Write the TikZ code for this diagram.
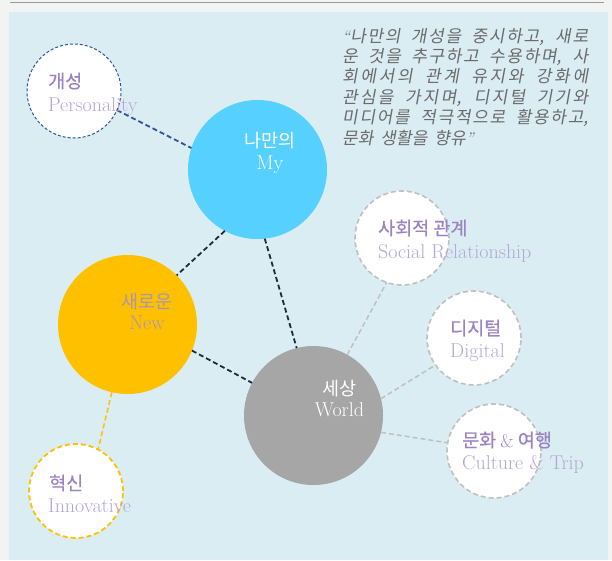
\documentclass[tikz,border=0pt]{standalone}
\usepackage{fontspec}
\newfontfamily\kr{Noto Sans CJK KR}
\newfontfamily\krb{Noto Sans CJK KR}[FakeBold=0.4]
\newfontfamily\krq{Noto Sans CJK KR}[FakeSlant=0.18]
\definecolor{outerbg}{HTML}{F2F4F4}
\definecolor{panel}{HTML}{DAEDF3}
\definecolor{rulegray}{HTML}{9A9A9A}
\definecolor{myblue}{HTML}{55D0FF}
\definecolor{newyellow}{HTML}{FFC000}
\definecolor{worldgray}{HTML}{A6A6A6}
\definecolor{persblue}{HTML}{2F5597}
\definecolor{darkline}{HTML}{1C2B3A}
\definecolor{satline}{HTML}{C0C0C0}
\definecolor{krpurple}{HTML}{9C82C2}
\definecolor{enpurple}{HTML}{B7A5D6}
\definecolor{newtext}{HTML}{A797B3}
\definecolor{quotegray}{HTML}{6A6A6A}
\tikzset{
  circ/.style={circle, inner sep=0pt, outer sep=0pt},
  bigcirc/.style={circ, minimum size=139pt},
  satcirc/.style={circ, fill=white, minimum size=94pt, line width=1.6pt, draw=satline, dash pattern=on 5pt off 3pt},
  yelcirc/.style={circ, fill=white, minimum size=94pt, line width=1.8pt, draw=newyellow, dash pattern=on 5pt off 3pt},
  perscirc/.style={circ, fill=white, minimum size=94pt, line width=1pt, draw=persblue, dash pattern=on 3pt off 2pt},
  darkcon/.style={draw=darkline, line width=1.8pt, dash pattern=on 5pt off 3pt},
  perscon/.style={draw=persblue, line width=1.8pt, dash pattern=on 5pt off 3pt},
  graycon/.style={draw=satline, line width=1.5pt, dash pattern=on 5pt off 3pt},
  yelcon/.style={draw=newyellow, line width=1.5pt, dash pattern=on 5pt off 3pt},
  krlab/.style={anchor=base west, inner sep=0pt, text=krpurple, font=\krb\fontsize{18.5}{20}\selectfont},
  enlab/.style={anchor=base west, inner sep=0pt, text=enpurple, font=\fontsize{20}{22}\selectfont},
  krin/.style={anchor=base, inner sep=0pt, font=\kr\fontsize{18.5}{20}\selectfont},
  enin/.style={anchor=base, inner sep=0pt, font=\fontsize{20}{22}\selectfont}
}
\begin{document}
\begin{tikzpicture}[x=1pt,y=-1pt]
\useasboundingbox (0,0) rectangle (612,560);
\fill[outerbg] (0,0) rectangle (612,560);
\fill[panel] (9,12) rectangle (608,560);
\draw[rulegray, line width=1.5pt] (10,2.5) -- (604,2.5);

% circles
\node[bigcirc, fill=myblue] (my) at (257.5,169.5) {};
\node[bigcirc, fill=newyellow] (new) at (127.5,324.5) {};
\node[bigcirc, fill=worldgray] (world) at (313.5,415.5) {};
\node[perscirc] (pers) at (74,91) {};
\node[satcirc] (soc) at (402,238) {};
\node[satcirc] (dig) at (474,338) {};
\node[satcirc] (cul) at (494,451) {};
\node[yelcirc] (inn) at (76,491) {};

% connectors
\draw[perscon] (pers.336) -- (my.162);
\draw[darkcon] (my.242) -- (new.45);
\draw[darkcon] (my.276) -- (world.104);
\draw[darkcon] (new.338) -- (world.152);
\draw[yelcon] (new.257) -- (inn.62);
\draw[graycon] (world.61) -- (soc.251);
\draw[graycon] (world.14) -- (dig.215);
\draw[graycon] (world.346) -- (cul.170);

% labels
\node[krlab] (persk) at (48,88) {개성};
\node[enlab] (perse) at (48,111) {Personality};
\node[krlab] (sock) at (378,235) {사회적 관계};
\node[enlab] (soce) at (378,258) {Social Relationship};
\node[krlab] (digk) at (450,335) {디지털};
\node[enlab] (dige) at (450,357) {Digital};
\node[krlab] (culk) at (462,447) {문화 {\rmfamily\mdseries\&} 여행};
\node[enlab] (cule) at (462,469) {Culture \& Trip};
\node[krlab] (innk) at (49,490) {혁신};
\node[enlab] (inne) at (48,512) {Innovative};

\node[krin, text=white] (myk) at (270,147) {나만의};
\node[enin, text=white] (mye) at (270,169) {My};
\node[krin, text=newtext] (newk) at (147,308) {새로운};
\node[enin, text=newtext] (newe) at (147,329) {New};
\node[krin, text=white] (worldk) at (339.5,395) {세상};
\node[enin, text=white] (worlde) at (339.5,416) {World};

% quote
\node[anchor=base west, inner sep=0pt, text width=246pt, align=justify, text=quotegray,
      font=\krq\fontsize{17}{20.4}\selectfont] (quote) at (342,42)
{\XeTeXlinebreaklocale "ko"\XeTeXlinebreakskip=0pt plus 1.5pt
\spaceskip=7pt plus 3pt\xspaceskip=7pt plus 3pt
{\rmfamily\itshape “}나만의 개성을 중시하고, 새로\linebreak
운 것을 추구하고 수용하며, 사\linebreak
회에서의 관계 유지와 강화에\linebreak
관심을 가지며, 디지털 기기와\linebreak
미디어를 적극적으로 활용하고,\linebreak
문화 생활을 향유{\rmfamily\itshape ”}\par};
\end{tikzpicture}
\end{document}
